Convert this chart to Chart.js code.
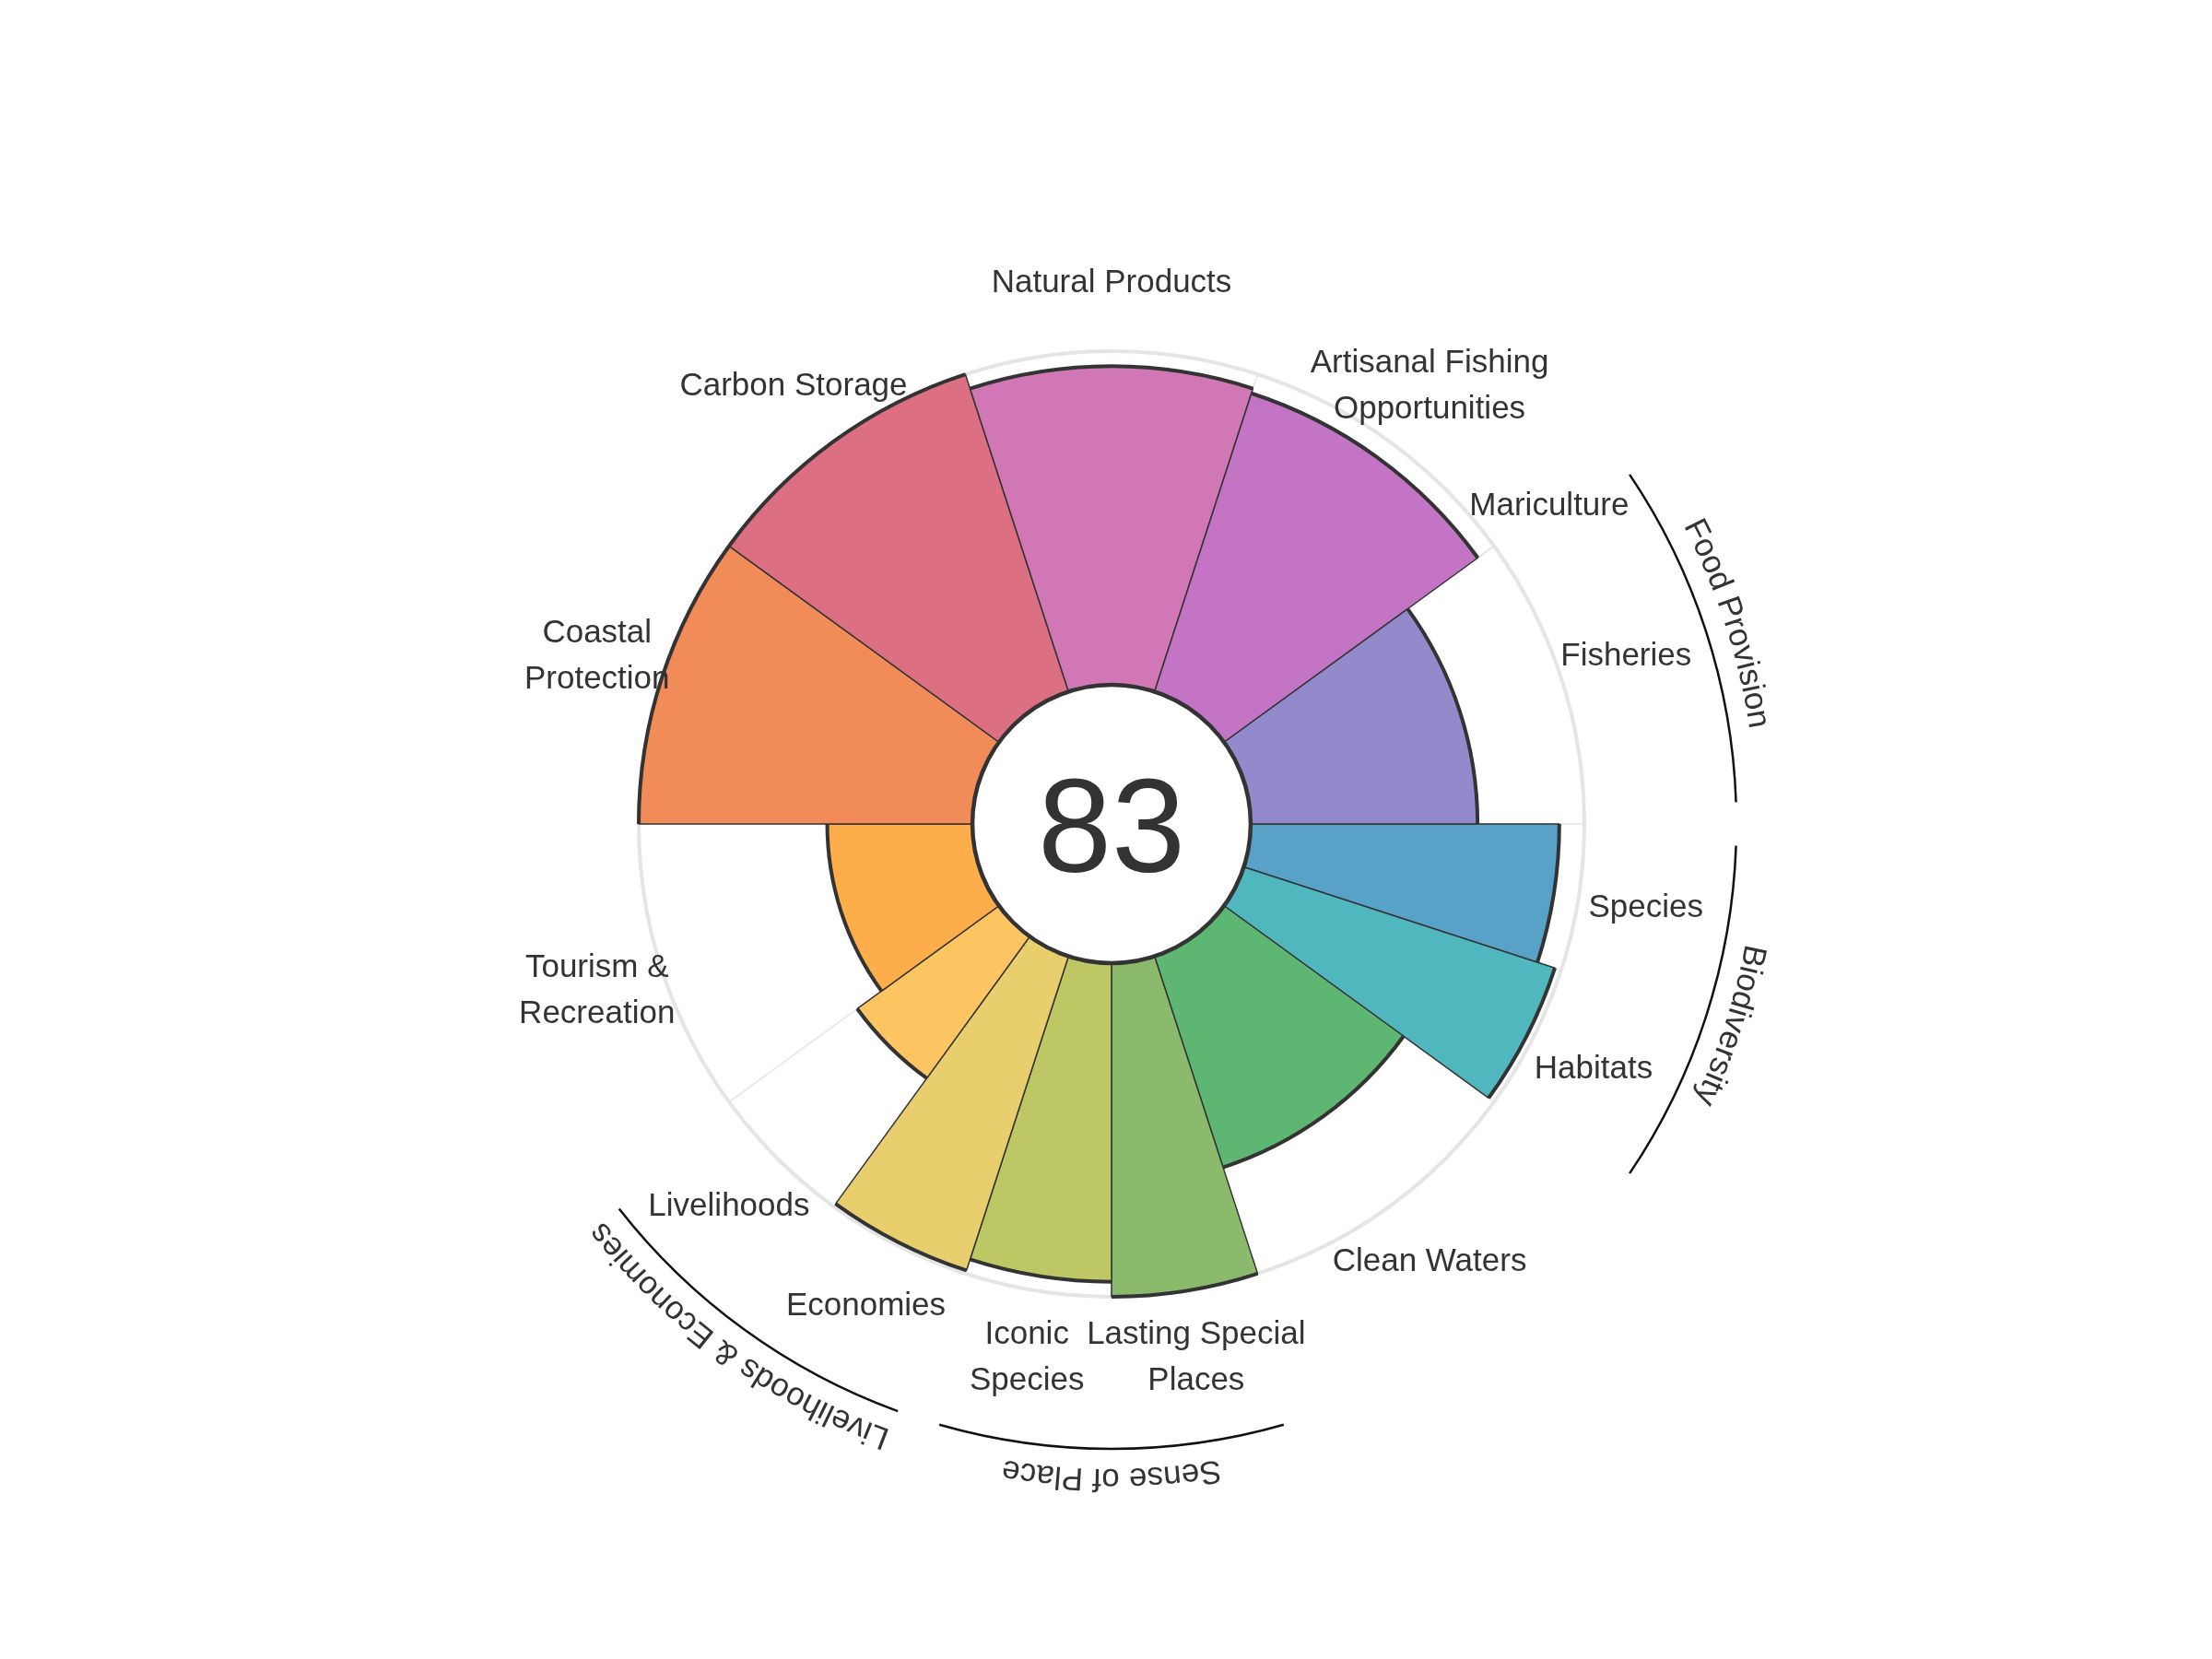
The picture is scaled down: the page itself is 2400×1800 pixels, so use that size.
<!DOCTYPE html>
<html>
<head>
<meta charset="utf-8">
<title>Ocean Health Index flower</title>
<script src="https://cdn.jsdelivr.net/npm/chart.js@4.4.1/dist/chart.umd.min.js"></script>
<style>
  html, body { margin: 0; padding: 0; background: #ffffff; }
  #wrap { width: 2400px; height: 1800px; }
</style>
</head>
<body>
<div id="wrap"><canvas id="myChart" width="2400" height="1800"></canvas></div>
<script>
// goals in drawing order, clockwise starting at 3 o'clock
var goals = ['Species', 'Habitats', 'Clean Waters', 'Lasting Special Places', 'Iconic Species',
             'Economies', 'Livelihoods', 'Tourism & Recreation', 'Coastal Protection', 'Carbon Storage',
             'Natural Products', 'Artisanal Fishing Opportunities', 'Mariculture', 'Fisheries'];
// how the names are broken on the plot
var goalLabels = [['Species'], ['Habitats'], ['Clean Waters'], ['Lasting Special', 'Places'], ['Iconic', 'Species'],
                  ['Economies'], ['Livelihoods'], ['Tourism &', 'Recreation'], ['Coastal', 'Protection'], ['Carbon Storage'],
                  ['Natural Products'], ['Artisanal Fishing', 'Opportunities'], ['Mariculture'], ['Fisheries']];
var scores = [92.5, 98, 66.5, 100, 95.5, 99, 52.5, 43.5, 100, 100, 95.5, 94, 0, 68];
// petal widths in degrees (goal weights)
var weights = [18, 18, 36, 18, 18, 18, 18, 36, 36, 36, 36, 36, 0, 36];
var goalColors = ['#58a2c8', '#4fb7bd', '#5db773', '#8bba6c', '#bdc763', '#e9ce6e', '#fdc561',
                  '#fdae4a', '#f18b58', '#dc6f81', '#d177b5', '#c374c4', '#a98bc9', '#928acb'];
var overallScore = 83;

var groupNames = ['Food Provision', 'Biodiversity', 'Sense of Place', 'Livelihoods & Economies'];
var groupGoals = [['Mariculture', 'Fisheries'], ['Species', 'Habitats'],
                  ['Lasting Special Places', 'Iconic Species'], ['Economies', 'Livelihoods']];

var FONT = '"Liberation Sans", Arial, Helvetica, sans-serif';
var TEXT_COLOR = '#333333';

function drawCurvedText(ctx, text, cx, cy, r, mid) {
    var total = 0;
    for (var i = 0; i < text.length; i++) total += ctx.measureText(text[i]).width;
    var a = mid - total / 2 / r;
    for (var j = 0; j < text.length; j++) {
        var w = ctx.measureText(text[j]).width;
        var ang = a + w / 2 / r;
        ctx.save();
        ctx.translate(cx + r * Math.cos(ang), cy + r * Math.sin(ang));
        ctx.rotate(ang + Math.PI / 2);
        ctx.fillText(text[j], 0, 0);
        ctx.restore();
        a += w / r;
    }
}

var flowerDecor = {
    id: 'flowerDecor',
    beforeDatasetsDraw: function(chart) {
        var ctx = chart.ctx, scale = chart.scales.r;
        var cx = scale.xCenter, cy = scale.yCenter;
        var r0 = scale.getDistanceFromCenterForValue(0);
        var r100 = scale.getDistanceFromCenterForValue(100);
        // faint spokes on the petal borders
        ctx.save();
        ctx.strokeStyle = '#e5e5e5';
        ctx.lineWidth = 1.5;
        chart.getDatasetMeta(0).data.forEach(function(arc) {
            var a = arc.startAngle;
            ctx.beginPath();
            ctx.moveTo(cx + r0 * Math.cos(a), cy + r0 * Math.sin(a));
            ctx.lineTo(cx + r100 * Math.cos(a), cy + r100 * Math.sin(a));
            ctx.stroke();
        });
        ctx.restore();
    },
    afterDatasetsDraw: function(chart) {
        var ctx = chart.ctx, scale = chart.scales.r;
        var cx = scale.xCenter, cy = scale.yCenter;
        var r0 = scale.getDistanceFromCenterForValue(0);
        var r100 = scale.getDistanceFromCenterForValue(100);
        var arcs = chart.getDatasetMeta(0).data;

        ctx.save();
        // heavy outline on the petal tips
        ctx.strokeStyle = '#333333';
        ctx.lineWidth = 4;
        ctx.lineCap = 'butt';
        arcs.forEach(function(arc) {
            if (arc.endAngle - arc.startAngle < 0.001) return;
            ctx.beginPath();
            ctx.arc(cx, cy, arc.outerRadius, arc.startAngle, arc.endAngle);
            ctx.stroke();
        });

        // hole with the index score
        ctx.beginPath();
        ctx.arc(cx, cy, r0, 0, Math.PI * 2);
        ctx.fillStyle = '#ffffff';
        ctx.fill();
        ctx.lineWidth = 4.5;
        ctx.stroke();
        ctx.fillStyle = TEXT_COLOR;
        ctx.font = '144px ' + FONT;
        ctx.textAlign = 'center';
        ctx.textBaseline = 'alphabetic';
        ctx.fillText(String(overallScore), cx, cy + 0.358 * 144);

        // goal names
        ctx.font = '35px ' + FONT;
        ctx.textBaseline = 'middle';
        var labelR = r100 + 74;
        arcs.forEach(function(arc, i) {
            var mid = (arc.startAngle + arc.endAngle) / 2;
            var x = cx + labelR * Math.cos(mid), y = cy + labelR * Math.sin(mid);
            var lines = goalLabels[i];
            for (var k = 0; k < lines.length; k++) {
                ctx.fillText(lines[k], x, y + (k - (lines.length - 1) / 2) * 50);
            }
        });

        // goal groups: outer arc + curved name
        var pad = 2 * Math.PI / 180;
        var arcR = r100 + 165;
        groupNames.forEach(function(name, g) {
            var start = Infinity, end = -Infinity;
            groupGoals[g].forEach(function(goal) {
                var arc = arcs[goals.indexOf(goal)];
                start = Math.min(start, arc.startAngle);
                end = Math.max(end, arc.endAngle);
            });
            ctx.strokeStyle = '#111111';
            ctx.lineWidth = 2.5;
            ctx.beginPath();
            ctx.arc(cx, cy, arcR, start + pad, end - pad);
            ctx.stroke();
            ctx.fillStyle = TEXT_COLOR;
            ctx.textBaseline = 'alphabetic';
            drawCurvedText(ctx, name, cx, cy, arcR + 22, (start + end) / 2);
        });
        ctx.restore();
    }
};

var ctx = document.getElementById('myChart').getContext('2d');
var myChart = new Chart(ctx, {
    type: 'polarArea',
    data: {
        labels: goals,
        datasets: [{
            data: scores,
            backgroundColor: goalColors,
            borderColor: '#333333',
            borderWidth: 1.5,
            // petal width comes from the goal weight
            angle: function(c) { return weights[c.dataIndex] || 1e-6; }
        }]
    },
    options: {
        responsive: false,
        animation: false,
        layout: { padding: { top: 381, bottom: 393, left: 12, right: 0 } },
        plugins: {
            legend: { display: false },
            tooltip: { enabled: false }
        },
        scales: {
            r: {
                min: -41.7,
                max: 100,
                startAngle: 90,
                ticks: { display: false },
                pointLabels: { display: false },
                angleLines: { display: false },
                grid: { circular: true, color: '#e5e5e5', lineWidth: 4 },
                afterBuildTicks: function(scale) { scale.ticks = [{ value: 100 }]; }
            }
        }
    },
    plugins: [flowerDecor]
});
</script>
</body>
</html>
